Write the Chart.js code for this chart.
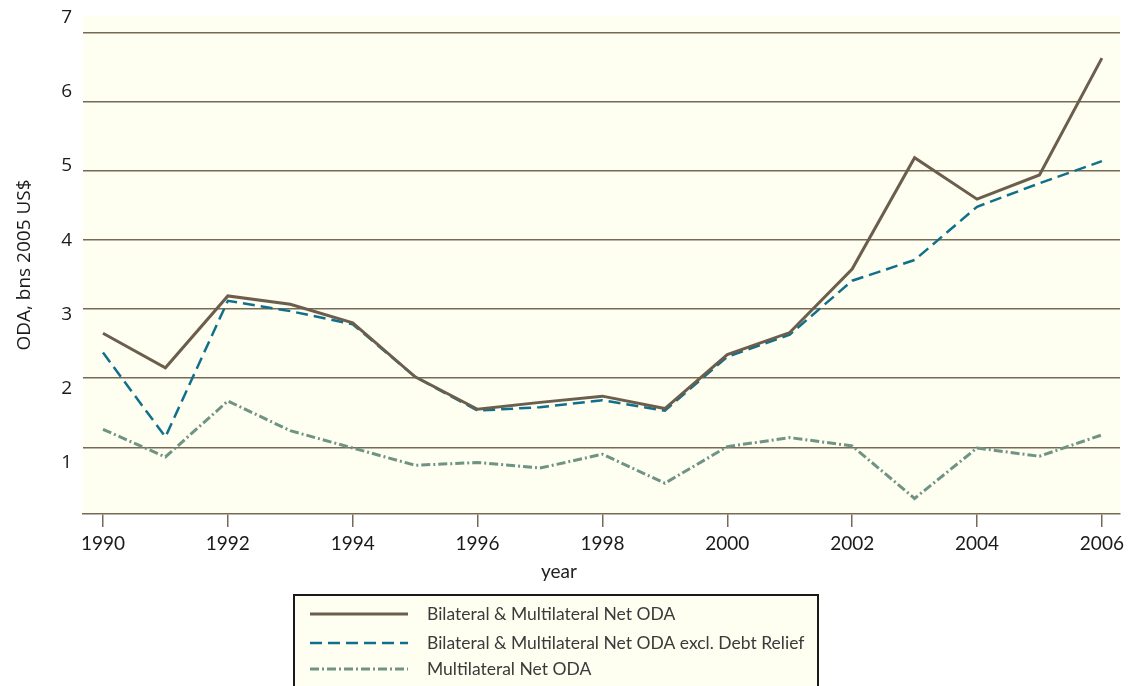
<!DOCTYPE html>
<html lang="en">
<head>
    <meta charset="UTF-8">
    <title>ODA, bns 2005 US$</title>
    <script src="https://cdn.jsdelivr.net/npm/chart.js"></script>
    <style>
        body { margin: 0; background: #ffffff; }
        canvas { display: block; }
    </style>
</head>
<body>

<canvas id="odaChart" width="1139" height="686"></canvas>

<script>
    // Values, bns 2005 US$
    var years = [1990, 1991, 1992, 1993, 1994, 1995, 1996, 1997, 1998, 1999, 2000, 2001, 2002, 2003, 2004, 2005, 2006];
    var totalOda = [2.65, 2.15, 3.19, 3.07, 2.80, 2.02, 1.55, 1.65, 1.74, 1.56, 2.34, 2.66, 3.58, 5.19, 4.59, 4.94, 6.63];
    var exclDebtRelief = [2.37, 1.15, 3.12, 2.97, 2.78, 2.02, 1.53, 1.58, 1.68, 1.53, 2.31, 2.63, 3.41, 3.71, 4.48, 4.82, 5.14];
    var multilateralOda = [1.26, 0.86, 1.67, 1.24, 0.99, 0.74, 0.78, 0.70, 0.90, 0.48, 1.01, 1.14, 1.02, 0.26, 0.99, 0.87, 1.18];

    var xTicks = [1990, 1992, 1994, 1996, 1998, 2000, 2002, 2004, 2006];
    var yTicks = [1, 2, 3, 4, 5, 6, 7];

    var seriesNames = [
        'Bilateral & Multilateral Net ODA',
        'Bilateral & Multilateral Net ODA excl. Debt Relief',
        'Multilateral Net ODA'
    ];

    var gridColor = '#766a57';
    var plotBg = '#fefef1';

    function toPoints(values) {
        return years.map(function (yr, i) { return { x: yr, y: values[i] }; });
    }

    function fixedTicks(list) {
        return function (scale) {
            scale.ticks = list.map(function (v) { return { value: v }; });
        };
    }

    // background, "year" title and the boxed legend
    var framePlugin = {
        id: 'frame',
        beforeDraw: function (chart) {
            var ctx = chart.ctx;
            var a = chart.chartArea;
            ctx.save();
            ctx.fillStyle = '#ffffff';
            ctx.fillRect(0, 0, chart.width, chart.height);
            ctx.fillStyle = plotBg;
            ctx.fillRect(a.left, a.top, a.right - a.left, a.bottom - a.top);
            ctx.restore();
        },
        afterDraw: function (chart) {
            var ctx = chart.ctx;
            ctx.save();
            ctx.fillStyle = '#222222';
            ctx.font = '19px Lato, "Open Sans", sans-serif';
            ctx.textAlign = 'center';
            ctx.textBaseline = 'middle';
            ctx.fillText('year', 559, 572);

            // legend box
            ctx.fillStyle = plotBg;
            ctx.fillRect(294, 595, 524, 100);
            ctx.strokeStyle = '#1a1a1a';
            ctx.lineWidth = 2;
            ctx.strokeRect(294, 595, 524, 100);

            var rows = [614, 643, 669];
            chart.data.datasets.forEach(function (ds, i) {
                ctx.strokeStyle = ds.borderColor;
                ctx.lineWidth = ds.borderWidth;
                ctx.setLineDash(ds.borderDash || []);
                ctx.beginPath();
                ctx.moveTo(310, rows[i]);
                ctx.lineTo(408, rows[i]);
                ctx.stroke();
                ctx.setLineDash([]);
                ctx.fillStyle = '#3a3a3a';
                ctx.font = '17.5px Lato, "Open Sans", sans-serif';
                ctx.textAlign = 'left';
                ctx.fillText(ds.label, 427, rows[i]);
            });
            ctx.restore();
        }
    };

    var ctx = document.getElementById('odaChart').getContext('2d');

    var odaChart = new Chart(ctx, {
        type: 'line',
        data: {
            datasets: [
                {
                    label: seriesNames[0],
                    data: toPoints(totalOda),
                    borderColor: '#6b5e4d',
                    borderWidth: 3,
                    borderDash: [],
                    pointRadius: 0,
                    yAxisID: 'y'
                },
                {
                    label: seriesNames[1],
                    data: toPoints(exclDebtRelief),
                    borderColor: '#10708c',
                    borderWidth: 2.5,
                    borderDash: [12, 6],
                    pointRadius: 0,
                    yAxisID: 'y'
                },
                {
                    label: seriesNames[2],
                    data: toPoints(multilateralOda),
                    borderColor: '#6f9385',
                    borderWidth: 3,
                    borderDash: [9, 3, 2, 3],
                    pointRadius: 0,
                    yAxisID: 'y'
                }
            ]
        },
        options: {
            responsive: false,
            animation: false,
            layout: {
                padding: { top: 16, right: 19, bottom: 100, left: 0 }
            },
            plugins: {
                legend: { display: false },
                tooltip: { enabled: false }
            },
            scales: {
                x: {
                    type: 'linear',
                    min: 1989.68,
                    max: 2006.29,
                    afterBuildTicks: fixedTicks(xTicks),
                    afterFit: function (scale) { scale.height = 72; },
                    grid: {
                        drawOnChartArea: false,
                        tickLength: 13,
                        color: gridColor,
                        lineWidth: 1.5
                    },
                    border: { color: gridColor, width: 1.5 },
                    ticks: {
                        padding: 5,
                        color: '#1a1a1a',
                        font: { family: 'Lato, sans-serif', size: 19 },
                        callback: function (v) { return String(v); }
                    }
                },
                // gridlines only
                y: {
                    position: 'left',
                    min: 0.035,
                    max: 7.24,
                    afterBuildTicks: fixedTicks(yTicks),
                    afterFit: function (scale) { scale.width = 0; },
                    grid: { color: gridColor, lineWidth: 1.5, drawTicks: false },
                    border: { display: false },
                    ticks: { display: false }
                },
                // tick labels and title, placed as in the reference
                yLabels: {
                    type: 'linear',
                    position: 'left',
                    min: 0.313,
                    max: 7.02,
                    afterBuildTicks: fixedTicks(yTicks),
                    afterFit: function (scale) {
                        scale.width = 83;
                        scale.paddingTop = 0;
                        scale.paddingBottom = 0;
                    },
                    grid: { display: false, drawTicks: false },
                    border: { display: false },
                    ticks: {
                        padding: 11,
                        color: '#1a1a1a',
                        font: { family: '"Open Sans", "Noto Sans", sans-serif', size: 19 }
                    },
                    title: {
                        display: true,
                        text: 'ODA, bns 2005 US$',
                        color: '#1a1a1a',
                        font: { family: '"Open Sans", "Noto Sans", sans-serif', size: 19 },
                        padding: { top: 13, bottom: 0 }
                    }
                }
            }
        },
        plugins: [framePlugin]
    });
</script>

</body>
</html>
